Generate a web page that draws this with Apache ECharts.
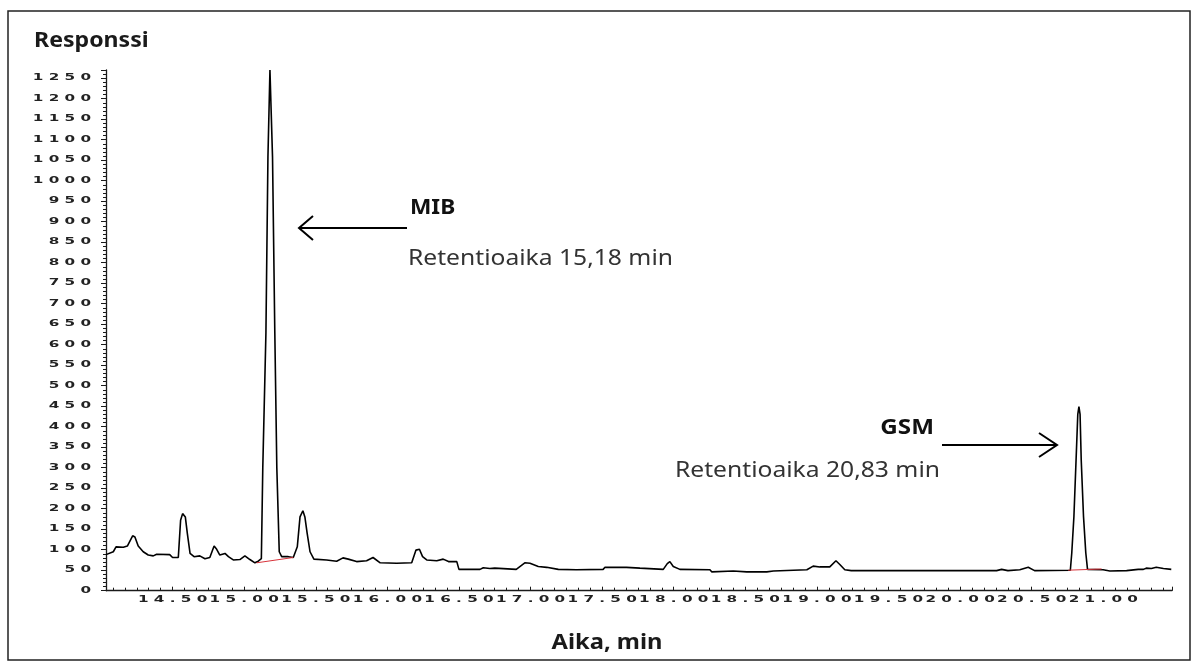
<!DOCTYPE html>
<html>
<head>
<meta charset="utf-8">
<script src="https://cdn.jsdelivr.net/npm/echarts@6/dist/echarts.min.js"></script>
<style>
  html, body { margin: 0; padding: 0; background: #ffffff; }
  #chart { width: 1198px; height: 668px; }
</style>
</head>
<body>
<div id="chart"></div>
<script>
// Chromatogram trace: retention time (min) and detector response
const retentionTimes = [
  14.035, 14.04, 14.086, 14.105, 14.156, 14.184, 14.221, 14.237, 14.26, 14.295,
  14.33, 14.365, 14.389, 14.48, 14.5, 14.54, 14.556, 14.57, 14.589, 14.603,
  14.622, 14.65, 14.69, 14.726, 14.76, 14.79, 14.808, 14.83, 14.866, 14.89,
  14.924, 14.97, 15.005, 15.04, 15.075, 15.098, 15.12, 15.13, 15.152, 15.166,
  15.18, 15.198, 15.214, 15.228, 15.245, 15.262, 15.308, 15.343, 15.371, 15.39,
  15.41, 15.424, 15.44, 15.46, 15.487, 15.576, 15.646, 15.69, 15.727, 15.785,
  15.855, 15.9, 15.95, 16.065, 16.17, 16.2, 16.224, 16.246, 16.275, 16.345,
  16.39, 16.427, 16.485, 16.5, 16.647, 16.67, 16.716, 16.75, 16.9, 16.96,
  16.996, 17.054, 17.113, 17.194, 17.32, 17.507, 17.52, 17.67, 17.764, 17.927,
  17.955, 17.973, 17.997, 18.043, 18.253, 18.265, 18.416, 18.51, 18.65, 18.696,
  18.93, 18.974, 19.02, 19.09, 19.133, 19.16, 19.195, 19.24, 20.208, 20.22,
  20.255, 20.29, 20.334, 20.417, 20.476, 20.52, 20.77, 20.78, 20.795, 20.81,
  20.822, 20.83, 20.838, 20.846, 20.862, 20.878, 20.89, 20.999, 21.046, 21.163,
  21.244, 21.28, 21.3, 21.336, 21.37, 21.42, 21.475
];
const responses = [
  88, 89, 95, 107, 106, 109, 134, 131, 109, 95,
  87, 85, 89, 88, 81, 81, 172, 188, 180, 140,
  91, 83, 85, 78, 81, 109, 101, 87, 91, 83,
  75, 76, 85, 76, 68, 72, 78, 300, 630, 1058,
  1270, 1058, 630, 300, 95, 83, 83, 81, 107, 180,
  195, 180, 140, 95, 77, 75, 72, 80, 77, 71,
  73, 81, 68, 67, 68, 99, 101, 83, 75, 73,
  77, 71, 71, 52, 52, 56, 54, 55, 52, 68,
  67, 59, 57, 52, 51, 52, 57, 57, 55, 52,
  66, 71, 59, 52, 51, 46, 48, 46, 46, 48,
  51, 60, 58, 58, 73, 64, 51, 49, 49, 53,
  49, 52, 49, 51, 57, 49, 50, 92, 181, 319,
  430, 449, 430, 319, 181, 92, 52, 51, 48, 49,
  52, 52, 55, 54, 57, 54, 52
];

// Integration baselines under the two identified peaks
const mibBaselineTimes = [15.087, 15.343];
const mibBaselineResponses = [68, 81];
const gsmBaselineTimes = [20.755, 20.988];
const gsmBaselineResponses = [50, 53];

// Tick labels
const yTickLabels = ['0', '50', '100', '150', '200', '250', '300', '350', '400', '450',
  '500', '550', '600', '650', '700', '750', '800', '850', '900', '950',
  '1000', '1050', '1100', '1150', '1200', '1250'];
const xTickLabels = ['14.50', '15.00', '15.50', '16.00', '16.50', '17.00', '17.50',
  '18.00', '18.50', '19.00', '19.50', '20.00', '20.50', '21.00'];

const zip = (xs, ys) => xs.map((x, i) => [x, ys[i]]);
const axisColor = '#1a1a1a';

const chart = echarts.init(document.getElementById('chart'), null, { renderer: 'canvas' });

chart.setOption({
  animation: false,
  backgroundColor: '#ffffff',
  grid: { left: 106, right: 26, top: 70, bottom: 77.3, containLabel: false },
  xAxis: {
    type: 'value',
    min: 14.035,
    max: 21.48,
    splitNumber: 15,
    axisLine: { show: true, lineStyle: { color: axisColor, width: 1.3 } },
    axisTick: { show: true, inside: true, length: 4, lineStyle: { color: axisColor, width: 1 } },
    minorTick: { show: true, splitNumber: 6, length: 3, lineStyle: { color: axisColor, width: 1 } },
    axisLabel: { show: false },
    splitLine: { show: false }
  },
  yAxis: {
    type: 'value',
    min: 0,
    max: 1270,
    interval: 50,
    axisLine: { show: true, lineStyle: { color: axisColor, width: 1.3 } },
    axisTick: { show: true, length: 5, lineStyle: { color: axisColor, width: 1 } },
    minorTick: { show: true, splitNumber: 5, length: 3, lineStyle: { color: axisColor, width: 1 } },
    axisLabel: { show: false },
    splitLine: { show: false }
  },
  series: [
    {
      name: 'Responssi',
      type: 'line',
      data: zip(retentionTimes, responses),
      showSymbol: false,
      symbol: 'none',
      clip: false,
      lineStyle: { color: '#000000', width: 1.6 },
      z: 2
    },
    {
      name: 'MIB baseline',
      type: 'line',
      data: zip(mibBaselineTimes, mibBaselineResponses),
      symbol: 'none',
      lineStyle: { color: '#d8343c', width: 1 },
      z: 3
    },
    {
      name: 'GSM baseline',
      type: 'line',
      data: zip(gsmBaselineTimes, gsmBaselineResponses),
      symbol: 'none',
      lineStyle: { color: '#d8343c', width: 1 },
      z: 3
    }
  ]
});

// Wide, flat tick lettering: spaced glyphs stretched horizontally
const spaced = s => s.split('').join(' ');
const tickFont = { fontSize: 8, fontWeight: 'bold', fontFamily: '"DejaVu Sans", sans-serif' };

const elements = [];

yTickLabels.forEach(lbl => {
  const py = chart.convertToPixel({ yAxisIndex: 0 }, Number(lbl));
  elements.push({
    type: 'text', x: 91, y: py, scaleX: 1.9, silent: true,
    style: Object.assign({ text: spaced(lbl), fill: '#222222', align: 'right', verticalAlign: 'middle' }, tickFont)
  });
});

xTickLabels.forEach(lbl => {
  const px = chart.convertToPixel({ xAxisIndex: 0 }, Number(lbl));
  elements.push({
    type: 'text', x: px, y: 600, scaleX: 1.9, silent: true,
    style: Object.assign({ text: spaced(lbl), fill: '#222222', align: 'center', verticalAlign: 'middle' }, tickFont)
  });
});

const headFont = '"Noto Sans", "Open Sans", sans-serif';

// Axis titles
elements.push({
  type: 'text', x: 34, y: 41, scaleX: 1.1, silent: true,
  style: { text: 'Responssi', fill: '#1a1a1a', fontSize: 21, fontWeight: 'bold', fontFamily: headFont, align: 'left', verticalAlign: 'middle' }
});
elements.push({
  type: 'text', x: 607, y: 643, scaleX: 1.13, silent: true,
  style: { text: 'Aika, min', fill: '#1a1a1a', fontSize: 21, fontWeight: 'bold', fontFamily: headFont, align: 'center', verticalAlign: 'middle' }
});

// Peak annotations
elements.push({
  type: 'text', x: 410, y: 208, scaleX: 1.03, silent: true,
  style: { text: 'MIB', fill: '#111111', fontSize: 22, fontWeight: 'bold', fontFamily: headFont, align: 'left', verticalAlign: 'middle' }
});
elements.push({
  type: 'text', x: 408, y: 259, scaleX: 1.12, silent: true,
  style: { text: 'Retentioaika 15,18 min', fill: '#333333', fontSize: 22, fontFamily: headFont, align: 'left', verticalAlign: 'middle' }
});
elements.push({
  type: 'text', x: 934, y: 428, scaleX: 1.1, silent: true,
  style: { text: 'GSM', fill: '#111111', fontSize: 22, fontWeight: 'bold', fontFamily: headFont, align: 'right', verticalAlign: 'middle' }
});
elements.push({
  type: 'text', x: 675, y: 471, scaleX: 1.12, silent: true,
  style: { text: 'Retentioaika 20,83 min', fill: '#333333', fontSize: 22, fontFamily: headFont, align: 'left', verticalAlign: 'middle' }
});

// Arrows
const arrowStyle = { stroke: '#000000', lineWidth: 2, fill: null };
elements.push({ type: 'line', silent: true, shape: { x1: 299, y1: 228, x2: 407, y2: 228 }, style: arrowStyle });
elements.push({ type: 'polyline', silent: true, shape: { points: [[313, 216], [299, 228], [313, 240]] }, style: arrowStyle });
elements.push({ type: 'line', silent: true, shape: { x1: 942, y1: 445, x2: 1057, y2: 445 }, style: arrowStyle });
elements.push({ type: 'polyline', silent: true, shape: { points: [[1039, 433], [1057, 445], [1039, 457]] }, style: arrowStyle });

// Outer frame
elements.push({
  type: 'rect', silent: true, z: -1,
  shape: { x: 8, y: 11, width: 1182, height: 649 },
  style: { stroke: '#222222', lineWidth: 1.5, fill: null }
});

chart.setOption({ graphic: { elements: elements } });
</script>
</body>
</html>
